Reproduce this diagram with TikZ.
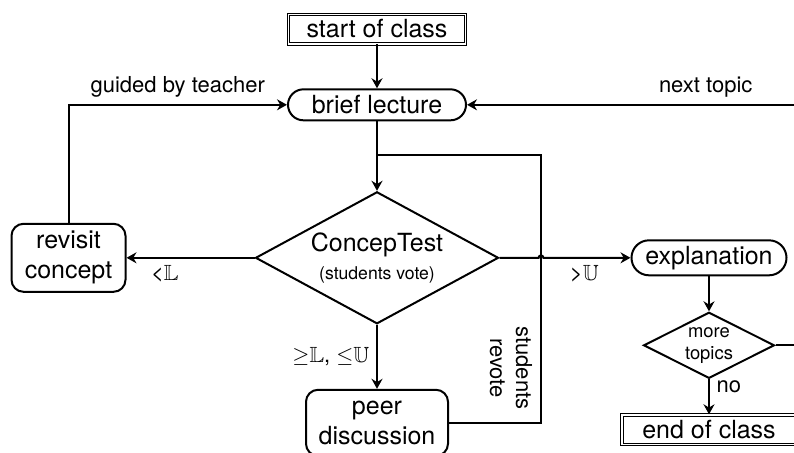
\documentclass[tikz,border=0pt]{standalone}
\usepackage{amssymb}
\usepackage{fontspec}
\setsansfont{TeX Gyre Heros}
\usetikzlibrary{arrows.meta,positioning,shapes.geometric}
\tikzset{
  box/.style={
    rectangle, draw=black, line width=1pt,
    align=center, font=\sffamily\fontsize{12.5}{15}\selectfont,
    inner sep=2pt
  },
  term/.style={box, line width=0.5pt, double, double distance=0.7pt,
    minimum width=88.3pt, minimum height=14.8pt},
  pill/.style={box, rounded corners=7.75pt, minimum height=15.5pt},
  proc/.style={box, rounded corners=6pt},
  choice/.style={diamond, draw=black, line width=1pt, align=center,
    inner sep=0pt, font=\sffamily\fontsize{12.5}{15}\selectfont},
  flow/.style={-{Stealth[length=5pt,width=5.5pt]}, line width=1pt},
  wire/.style={line width=1pt},
  lbl/.style={font=\sffamily\fontsize{11}{13}\selectfont}
}
\begin{document}
\begin{tikzpicture}
  \clip (0,0) rectangle (397pt,-226pt);

  % --- main column
  \node[term] (start) at (188.5pt,-14.5pt) {start of class};
  \node[pill, below=22pt of start, minimum width=89pt] (brief) {brief lecture};
  \node[choice, aspect=1.84, below=34.75pt of brief, minimum width=121.5pt, minimum height=66pt]
        (test) {ConcepTest\\[-1pt]{\fontsize{8.8}{10}\selectfont (students vote)}};
  \node[proc, below=32pt of test, minimum width=71pt, minimum height=33pt]
        (peer) {peer\\discussion};

  % --- side branches
  \node[proc, left=64pt of test, minimum width=57pt, minimum height=34pt]
        (revisit) {revisit\\concept};
  \node[pill, right=65.5pt of test, minimum width=77.5pt, minimum height=17.5pt,
        rounded corners=8.75pt] (expl) {explanation};
  \node[choice, aspect=1.98, inner sep=-2.5pt, below=17.5pt of expl, minimum width=65.5pt,
        minimum height=33pt, font=\sffamily\fontsize{9.2}{11}\selectfont] (more) {more\\topics};
  \node[term, below=17.5pt of more, minimum width=87pt] (end) {end of class};

  % --- helper points
  \coordinate (rim) at (397pt,0);
  \coordinate (rv)  at (270.5pt,-77.5pt);
  \coordinate (hop) at (rv |- test.east);

  \node[lbl, rotate=-90, align=center] (revotelbl) at (255.5pt,-184pt) {students\\revote};

  % --- arrows
  \draw[flow] (start) -- (brief);
  \draw[flow] (brief) -- (test);
  \draw[wire] (peer.east) -| (rv) -- (rv -| brief.south);
  \draw[flow] (revisit.north) |- node[lbl, above, pos=0.75] {guided by teacher} (brief.west);
  \draw[flow] (rim |- brief) -- node[lbl, above, pos=0.27] {next topic} (brief.east);
  \draw[flow] (test.west) -- node[lbl, below, pos=0.7] {<$\mathbb{L}$} (revisit.east);
  \draw[flow] (test.east) -- ([xshift=-1.2pt]hop) arc[start angle=180, end angle=0, radius=1.2pt]
        -- node[lbl, below, pos=0.47] {>$\mathbb{U}$} (expl.west);
  \draw[flow] (test) -- node[lbl, left] {${\geq}\mathbb{L}$, ${\leq}\mathbb{U}$} (peer);
  \draw[flow] (expl) -- (more);
  \draw[wire] (more.east) -- (rim |- more);
  \draw[flow] (more) -- node[lbl, right, pos=0.2] {no} (end);
\end{tikzpicture}
\end{document}
